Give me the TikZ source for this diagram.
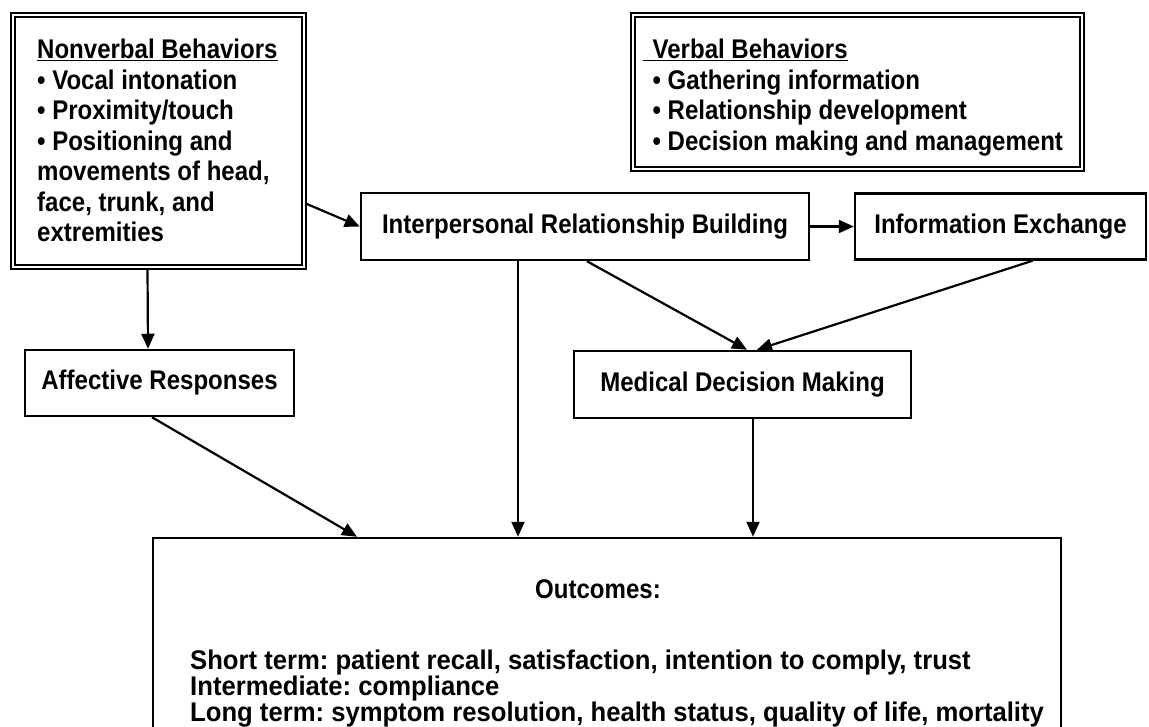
\documentclass[tikz,border=0pt]{standalone}
\usepackage{fontspec}
\setmainfont{Liberation Sans}[FakeStretch=0.89,BoldFont={Liberation Sans Bold},BoldFeatures={FakeStretch=0.89}]
\newfontfamily\outfont{Liberation Sans Bold}[FakeStretch=0.95]
\usetikzlibrary{arrows.meta}
\frenchspacing
\begin{document}
\begin{tikzpicture}[x=1pt,y=-1pt,
  lbl/.style={font=\fontsize{27}{30.5}\selectfont\bfseries, inner sep=0pt},
  olbl/.style={font=\outfont\fontsize{27}{26}\selectfont, inner sep=0pt},
  box/.style={draw, line width=2.5pt, rectangle, inner sep=0pt},
  dbox/.style={draw, double, line width=2.2pt, double distance=1.8pt, rectangle, inner sep=0pt},
  arr/.style={line width=2.2pt, -{Triangle[length=15pt,width=13pt]}}]
\useasboundingbox (0,0) rectangle (1149,727);
\clip (0,0) rectangle (1149,727);
\fill[white] (0,0) rectangle (1149,727);

% boxes
\node[dbox, minimum width=291pt, minimum height=252pt] (nv) at (158.5,141) {};
\node[dbox, minimum width=449pt, minimum height=154pt] (vb) at (857.5,92) {};
\node[box, minimum width=448pt, minimum height=67pt] (irb) at (585,226.5) {};
\node[box, minimum width=291pt, minimum height=66pt] (ie) at (1000.5,226.5) {};
\node[box, minimum width=269pt, minimum height=66pt] (aff) at (159.5,383) {};
\node[box, minimum width=337pt, minimum height=67pt] (mdm) at (742.5,384.5) {};
\node[box, minimum width=908pt, minimum height=222pt] (out) at (607,649) {};

% texts
\node[lbl, anchor=north west, align=left] (nvt) at (37,39)
  {\underline{Nonverbal Behaviors}\\• Vocal intonation\\• Proximity/touch\\• Positioning and\\movements of head,\\face, trunk, and\\extremities};
\node[lbl, anchor=north west, align=left] (vbt) at (643,39)
  {\underline{\hspace{0.35em}Verbal Behaviors}\\\hspace{0.35em}• Gathering information\\\hspace{0.35em}• Relationship development\\\hspace{0.35em}• Decision making and management};
\node[lbl] (irbt) at (irb.center) {Interpersonal Relationship Building};
\node[lbl] (iet) at (ie.center) {Information Exchange};
\node[lbl] (afft) at (aff.center) {Affective Responses};
\node[lbl] (mdmt) at (mdm.center) {Medical Decision Making};
\node[lbl] (oh) at (598,589) {Outcomes:};
\node[olbl, anchor=north west, align=left] (ot) at (190,650)
  {Short term: patient recall, satisfaction, intention to comply, trust\\Intermediate: compliance\\Long term: symptom resolution, health status, quality of life, mortality};

% connectors
\draw[arr] (nv.-23) -- (irb.west);
\draw[arr] (irb.east) -- (ie.west);
\draw[arr] ([xshift=-11pt]nv.south) -- ([xshift=-11.5pt]aff.north);
\draw[arr] ([xshift=-67pt]irb.south) -- ([xshift=-67pt]irb.south |- out.north);
\draw[arr] ([xshift=2pt]irb.south) -- ([xshift=4.5pt]mdm.north);
\draw[arr] ([xshift=32pt]ie.south) -- ([xshift=14.5pt]mdm.north);
\draw[arr] ([xshift=-7.5pt]aff.south) -- ([xshift=-250pt]out.north);
\draw[arr] ([xshift=10.5pt]mdm.south) -- ([xshift=10.5pt]mdm.south |- out.north);
\end{tikzpicture}
\end{document}
